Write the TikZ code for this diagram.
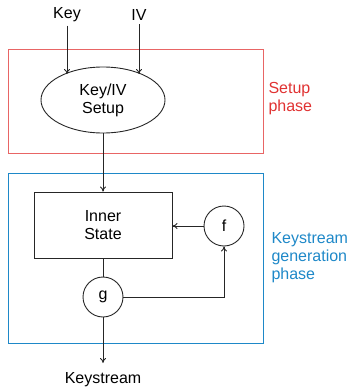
\documentclass[tikz,border=0pt]{standalone}
\usepackage{fontspec}
\setmainfont{Liberation Sans}
\usetikzlibrary{shapes.geometric,arrows.meta}
\definecolor{setupred}{RGB}{224,50,50}
\definecolor{genblue}{RGB}{30,136,200}
\begin{document}
\begin{tikzpicture}[x=1pt,y=-1pt,
  every node/.style={font=\fontsize{16}{18}\selectfont},
  line/.style={draw=black!85, line width=0.9pt},
  flow/.style={line, -{To[length=5pt,width=6pt]}},
  block/.style={draw=black!85, line width=0.9pt, minimum width=138pt, minimum height=66pt, align=center},
  oval/.style={ellipse, draw=black!85, line width=0.9pt, minimum width=124pt, minimum height=66pt, align=center},
  fun/.style={circle, draw=black!85, line width=0.9pt, minimum size=40pt, inner sep=0pt},
  phasebox/.style={line width=1pt},
  phaselabel/.style={anchor=west, align=left}
]
\useasboundingbox (0,0) rectangle (352,388);

% phase frames
\draw[phasebox, draw=setupred!75] (8,49) rectangle (263,153);
\draw[phasebox, draw=genblue] (8,173) rectangle (263,343);
\node[phaselabel, text=setupred] (setuplbl) at (265,99) {Setup\\phase};
\node[phaselabel, text=genblue] (genlbl) at (268,258) {Keystream\\generation\\phase};

% inputs
\node (key) at (67,15) {Key};
\node (iv) at (139,15) {IV};
\node[oval] (setup) at (103,100) {Key/IV\\Setup};
\coordinate (keyin) at (67,74);
\coordinate (ivin) at (139,74);
\draw[flow] (key.south) -- (keyin);
\draw[flow] (iv.south) -- (ivin);

% keystream generator
\node[block] (state) at (103,225) {Inner\\State};
\node[fun] (f) at (224,226) {f};
\node[fun] (g) at (103,297) {g};
\node (out) at (103,380) {Keystream};
\coordinate (corner) at (224,297);
\coordinate (outend) at (103,363);

\draw[flow] (setup.south) -- (state.north);
\draw[flow] (f.west) -- (state.east |- f.west);
\draw[line] (state.south) -- (g.north);
\draw[flow] (g.east) -- (corner) -- (f.south);
\draw[flow] (g.south) -- (outend);
\end{tikzpicture}
\end{document}
